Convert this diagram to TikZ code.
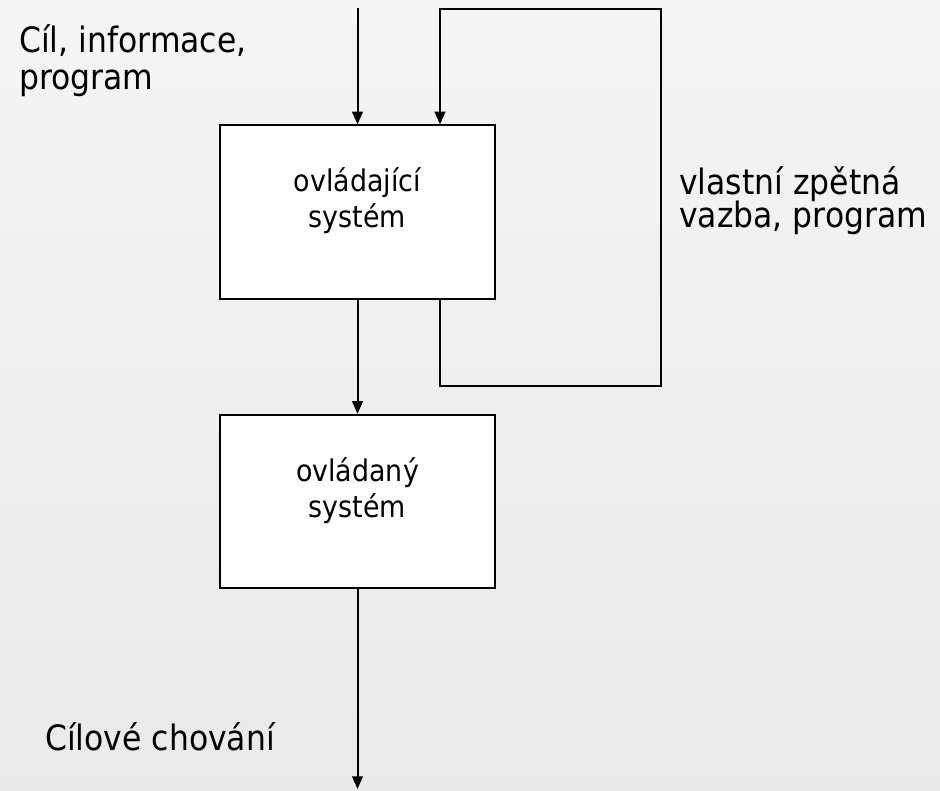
\documentclass[tikz,border=0pt]{standalone}
\usepackage{fontspec}
\setmainfont[FakeStretch=0.9]{DejaVu Sans}
\usetikzlibrary{arrows.meta,calc}
\begin{document}
\begin{tikzpicture}[x=0.75pt,y=-0.75pt,
  sysbox/.style={draw=black,fill=white,line width=1.5pt,minimum width=206pt,minimum height=130pt,inner sep=0pt},
  boxtxt/.style={anchor=base,inner sep=0pt,font=\fontsize{22.4}{26}\selectfont},
  lbl/.style={anchor=base west,inner sep=0pt,font=\fontsize{26.2}{30}\selectfont},
  conn/.style={line width=1.5pt,-{Triangle[length=9.5pt,width=8pt]}}]
\shade[top color=black!4,bottom color=black!8.5] (0,0) rectangle (940,791);
\useasboundingbox (0,0) rectangle (940,791);
\node[sysbox] (ctrl) at (357.5,212) {};
\node[sysbox] (plant) at (357.5,501.5) {};
\node[boxtxt] (ctrlA) at ($(ctrl.center)+(0,-20)$) {ovládající};
\node[boxtxt] (ctrlB) at ($(ctrl.center)+(0,16)$) {systém};
\node[boxtxt] (plantA) at ($(plant.center)+(0,-20)$) {ovládaný};
\node[boxtxt] (plantB) at ($(plant.center)+(0,16)$) {systém};
\coordinate (inTop) at (357.5,8);
\coordinate (fbTopL) at (440,9);
\coordinate (fbTopR) at (661,9);
\coordinate (fbBotR) at (661,386);
\coordinate (fbBotL) at (440,386);
\coordinate (outEnd) at (357.5,789);
\draw[conn] (inTop) -- (inTop |- ctrl.north);
\draw[conn] (fbBotL |- ctrl.south) -- (fbBotL) -- (fbBotR) -- (fbTopR) -- (fbTopL) -- (fbTopL |- ctrl.north);
\draw[conn] (ctrl.south -| inTop) -- (plant.north -| inTop);
\draw[conn] (plant.south -| inTop) -- (outEnd);
\node[lbl] (goalA) at (19,53) {Cíl, informace,};
\node[lbl] (goalB) at (19,90) {program};
\node[lbl] (fbA) at (679,195) {vlastní zpětná};
\node[lbl] (fbB) at (679,228) {vazba, program};
\node[lbl] (beh) at (45,750) {Cílové chování};
\end{tikzpicture}
\end{document}
